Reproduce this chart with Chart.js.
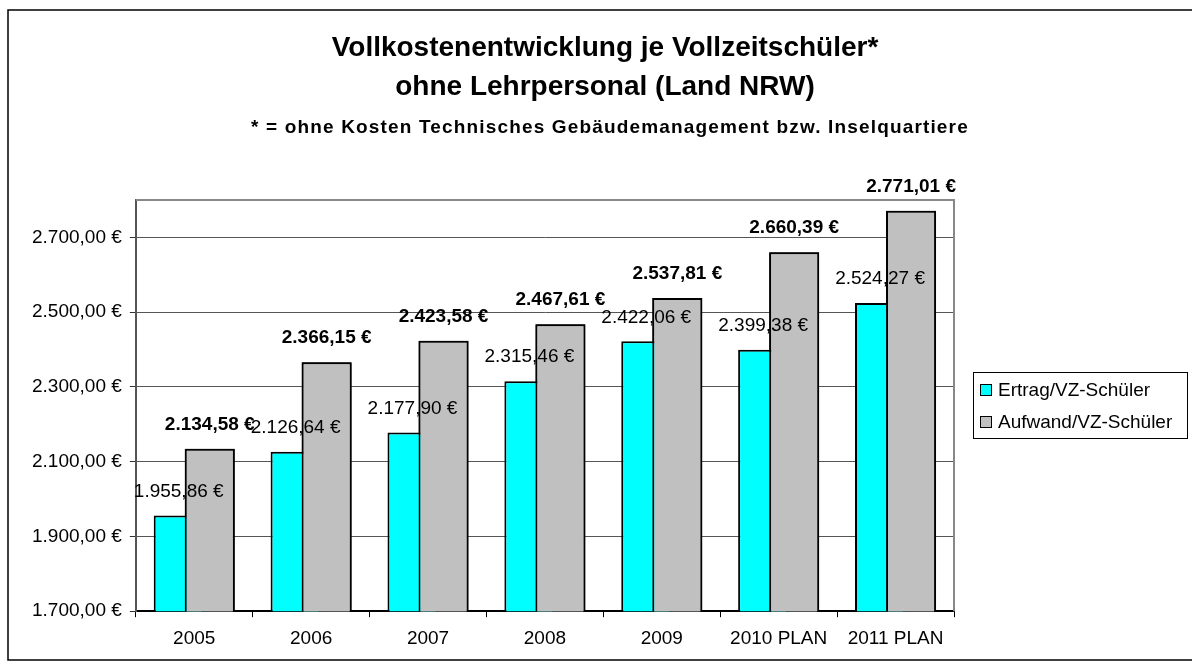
<!DOCTYPE html>
<html>
<head>
<meta charset="utf-8">
<script src="https://cdn.jsdelivr.net/npm/chart.js@4"></script>
<style>
html,body{margin:0;padding:0;background:#fff;}
#wrap{width:1192px;height:668px;position:relative;}
</style>
</head>
<body>
<div id="wrap"><canvas id="c" width="1192" height="668"></canvas></div>
<script>
const categories = ['2005', '2006', '2007', '2008', '2009', '2010 PLAN', '2011 PLAN'];
const ertragValues = [1955.86, 2126.64, 2177.90, 2315.46, 2422.06, 2399.38, 2524.27];
const aufwandValues = [2134.58, 2366.15, 2423.58, 2467.61, 2537.81, 2660.39, 2771.01];
const yTickValues = [1700, 1900, 2100, 2300, 2500, 2700];
const seriesNames = ['Ertrag/VZ-Schüler', 'Aufwand/VZ-Schüler'];
const titleLines = ['Vollkostenentwicklung je Vollzeitschüler*', 'ohne Lehrpersonal (Land NRW)'];
const subtitleText = '* = ohne Kosten Technisches Gebäudemanagement bzw. Inselquartiere';

const FONT = '"Liberation Sans", Arial, sans-serif';
const colors = ['#00FFFF', '#C0C0C0'];

function euro(v) {
  const neg = v < 0;
  const s = Math.abs(v).toFixed(2);
  let [ip, dp] = s.split('.');
  ip = ip.replace(/\B(?=(\d{3})+(?!\d))/g, '.');
  return (neg ? '-' : '') + ip + ',' + dp + ' €';
}

const decorPlugin = {
  id: 'decor',
  beforeDraw(chart) {
    const ctx = chart.ctx;
    ctx.save();
    ctx.fillStyle = '#fff';
    ctx.fillRect(0, 0, chart.width, chart.height);
    ctx.strokeStyle = '#000';
    ctx.lineWidth = 1.5;
    ctx.strokeRect(8, 10, 1200, 650);
    ctx.fillStyle = '#000';
    ctx.textAlign = 'center';
    ctx.textBaseline = 'alphabetic';
    ctx.font = 'bold 28px ' + FONT;
    ctx.fillText(titleLines[0], 605, 56);
    ctx.fillText(titleLines[1], 605, 95);
    ctx.font = 'bold 19px ' + FONT;
    const w = ctx.measureText(subtitleText).width;
    const target = 717;
    const ls = Math.max(0, (target - w) / (subtitleText.length - 1));
    ctx.letterSpacing = ls.toFixed(2) + 'px';
    ctx.textAlign = 'left';
    ctx.fillText(subtitleText, 251, 133);
    ctx.letterSpacing = '0px';
    ctx.strokeStyle = '#000';
    ctx.lineWidth = 1;
    ctx.strokeRect(973.5, 372.5, 214, 66);
    const rows = [390, 422];
    ctx.font = '19px ' + FONT;
    ctx.textBaseline = 'middle';
    for (let i = 0; i < 2; i++) {
      ctx.fillStyle = colors[i];
      ctx.fillRect(981, rows[i] - 5, 10, 10);
      ctx.strokeStyle = '#000';
      ctx.strokeRect(980.5, rows[i] - 5.5, 11, 11);
      ctx.fillStyle = '#000';
      ctx.fillText(seriesNames[i], 998, rows[i] + 1);
    }
    ctx.restore();
  },
  beforeDatasetsDraw(chart) {
    const a = chart.chartArea;
    const ctx = chart.ctx;
    ctx.save();
    ctx.strokeStyle = '#888';
    ctx.lineWidth = 2;
    ctx.beginPath();
    ctx.moveTo(a.left, a.top);
    ctx.lineTo(a.right, a.top);
    ctx.lineTo(a.right, a.bottom);
    ctx.stroke();
    ctx.restore();
  },
  afterDatasetsDraw(chart) {
    const a = chart.chartArea;
    const ctx = chart.ctx;
    ctx.save();
    ctx.beginPath();
    ctx.rect(a.left, a.top - 2, a.right - a.left, a.bottom - a.top + 2);
    ctx.clip();
    chart.getDatasetMeta(1).controller.draw();
    ctx.restore();
    ctx.save();
    ctx.fillStyle = '#000';
    ctx.textAlign = 'center';
    ctx.textBaseline = 'middle';
    [0, 1].forEach(di => {
      const meta = chart.getDatasetMeta(di);
      const vals = chart.data.datasets[di].data;
      ctx.font = (di === 1 ? 'bold ' : '') + '19px ' + FONT;
      meta.data.forEach((el, i) => {
        ctx.fillText(euro(vals[i]), el.x, el.y - 24);
      });
    });
    ctx.restore();
  }
};

new Chart(document.getElementById('c'), {
  type: 'bar',
  data: {
    labels: categories,
    datasets: [
      {
        label: seriesNames[0],
        data: ertragValues,
        backgroundColor: colors[0],
        borderColor: '#000',
        borderWidth: 2,
        borderSkipped: false,
        categoryPercentage: 0.531,
        barPercentage: 1.613
      },
      {
        label: seriesNames[1],
        data: aufwandValues,
        backgroundColor: colors[1],
        borderColor: '#000',
        borderWidth: 2,
        borderSkipped: false,
        categoryPercentage: 0.531,
        barPercentage: 1.613
      }
    ]
  },
  options: {
    responsive: false,
    animation: false,
    devicePixelRatio: 1,
    layout: { padding: { left: 24, right: 238, top: 200, bottom: 8 } },
    plugins: {
      legend: { display: false },
      title: { display: false },
      tooltip: { enabled: false }
    },
    scales: {
      x: {
        grid: { drawOnChartArea: false, drawTicks: true, tickLength: 6, color: '#000', lineWidth: 1 },
        border: { color: '#000', width: 2 },
        ticks: { color: '#000', font: { family: FONT, size: 19 }, padding: 10, maxRotation: 0, autoSkip: false }
      },
      y: {
        min: 1700,
        max: 2800,
        afterBuildTicks(scale) { scale.ticks = yTickValues.map(v => ({ value: v })); },
        grid: { color: '#555', lineWidth: 1, tickLength: 6, tickColor: '#333' },
        border: { color: '#555', width: 2 },
        ticks: { color: '#000', font: { family: FONT, size: 19 }, padding: 8, callback: v => euro(v) }
      }
    }
  },
  plugins: [decorPlugin]
});
</script>
</body>
</html>
